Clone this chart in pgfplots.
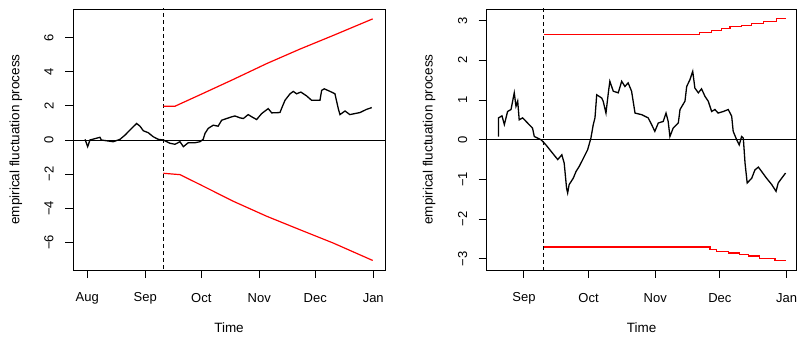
\documentclass[border=0pt]{standalone}
\usepackage{pgfplots}
\pgfplotsset{compat=1.18}
\usepackage{fontspec}
\setmainfont{Liberation Sans}
\begin{document}
\begin{tikzpicture}
\path[use as bounding box] (0,0) rectangle (798pt,338pt);
\pgfplotsset{
  rstyle/.style={
    scale only axis,
    height=261pt,
    axis line style={line width=0.9pt},
    tick align=outside,
    xtick pos=bottom, ytick pos=left,
    major tick length=8pt,
    tick style={line width=0.9pt, black},
    tick label style={font=\fontsize{13}{15}\selectfont},
    label style={font=\fontsize{13.5}{15}\selectfont},
    /pgf/number format/assume math mode=true,
    yticklabel style={rotate=90, anchor=center, yshift=16pt},
    xticklabel style={anchor=center, yshift=-20pt},
    xlabel={Time},
    ylabel={empirical fluctuation process},
    clip=true,
  }
}
% ---------------- left panel ----------------
\begin{axis}[rstyle,
  at={(73pt,68pt)}, anchor=south west, width=312pt,
  xmin=-7.65, xmax=159.3, ymin=-7.62, ymax=7.68,
  xtick={0,31,61,92,122,153},
  xticklabels={Aug,Sep,Oct,Nov,Dec,Jan},
  ytick={-6,-4,-2,0,2,4,6},
  yticklabels={−6,−4,−2,0,2,4,6},
  xlabel style={at={(axis description cs:0.5,-0.222)}, anchor=center},
  ylabel style={at={(axis description cs:-0.183,0.5)}, anchor=center},
]
\addplot[black, line width=0.9pt] coordinates {(-20,0) (200,0)};
\addplot[black, line width=0.9pt, dash pattern=on 4pt off 3pt] coordinates {(40.7,-10) (40.7,10)};
\addplot[red, line width=1.2pt] coordinates {
(40.7,1.98) (46.9,1.98) (60.3,2.65) (78.1,3.55) (96,4.48) (113.8,5.33) (131.6,6.13) (152.7,7.1)};
\addplot[red, line width=1.2pt] coordinates {
(40.7,-1.95) (49.6,-2.03) (60.3,-2.61) (78.1,-3.59) (96,-4.47) (113.8,-5.26) (131.6,-6.04) (152.7,-7.06)};
\addplot[black, line width=1.3pt] coordinates {
(-1.2,0.04) (0.2,-0.39) (1.4,0) (6.8,0.16) (7.5,0) (13.9,-0.1) (17.5,0.04)
(20.2,0.29) (22.8,0.58) (26.4,0.97) (28.2,0.81) (30,0.54) (32.6,0.43)
(35.3,0.19) (38,0.04) (40.7,0) (44.2,-0.19) (46.9,-0.25) (49.6,-0.1)
(51.4,-0.39) (54,-0.16) (57.6,-0.16) (60.3,-0.1) (62,0.04) (63,0.39)
(64.7,0.68) (67.4,0.87) (70,0.81) (71.9,1.16) (74.6,1.26) (77,1.35)
(79,1.41) (81.7,1.3) (83.5,1.26) (86.1,1.49) (88,1.36) (90.6,1.2)
(93.3,1.55) (96.8,1.84) (98.7,1.59) (103.1,1.61) (104.3,1.94) (105.8,2.33)
(108.5,2.71) (110.2,2.85) (112,2.71) (114.3,2.81) (117.4,2.58) (120,2.33)
(124.5,2.33) (125.4,2.91) (126.8,3.0) (129.9,2.85) (132.5,2.71) (134.3,1.84)
(135.2,1.49) (137.9,1.70) (140.5,1.49) (145.9,1.61) (149.5,1.80) (152.2,1.90)};
\end{axis}
% ---------------- right panel ----------------
\begin{axis}[rstyle,
  at={(486.7pt,68pt)}, anchor=south west, width=310pt,
  xmin=13.7, xmax=157.7, ymin=-3.28, ymax=3.29,
  xtick={31,61,92,122,153},
  xticklabels={Sep,Oct,Nov,Dec,Jan},
  ytick={-3,-2,-1,0,1,2,3},
  yticklabels={−3,−2,−1,0,1,2,3},
  xlabel style={at={(axis description cs:0.5,-0.222)}, anchor=center},
  ylabel style={at={(axis description cs:-0.186,0.5)}, anchor=center},
]
\addplot[black, line width=0.9pt] coordinates {(-20,0) (200,0)};
\addplot[black, line width=0.9pt, dash pattern=on 4pt off 3pt] coordinates {(40.2,-10) (40.2,10)};
\addplot[red, line width=1.2pt, const plot] coordinates {
(40.2,2.65) (112.7,2.70) (118.2,2.74) (122.8,2.80) (126.7,2.84) (132.1,2.88)
(136.8,2.92) (142.1,2.98) (148.4,3.05) (152.7,3.05)};
\addplot[red, line width=1.2pt, const plot] coordinates {
(40.2,-2.70) (117.4,-2.76) (120.5,-2.81) (125.9,-2.85) (131.3,-2.89)
(135.2,-2.93) (140.6,-2.99) (147.6,-3.04) (152.7,-3.04)};
\addplot[black, line width=1.3pt] coordinates {
(19.2,0.08) (19.2,0.55) (20.8,0.6) (21.9,0.38) (23.4,0.71) (25,0.76)
(26.5,1.18) (27.3,0.84) (28.1,0.97) (28.8,0.50) (30.4,0.55) (32.7,0.42)
(35,0.29) (35.8,0.08) (38.9,0) (41.2,-0.13) (44.3,-0.34) (46.7,-0.50)
(48.6,-0.38) (49.7,-0.59) (50.8,-1.22) (51.3,-1.34) (52,-1.13) (53.9,-0.97)
(55.2,-0.80) (56.7,-0.67) (58.3,-0.50) (60.6,-0.25) (62.1,0.04) (63.2,0.38)
(64,0.55) (64.8,1.13) (67.1,1.05) (67.8,0.97) (69.1,0.67) (70.2,1.18)
(70.9,1.47) (72.5,1.22) (74.8,1.18) (76.4,1.47) (77.9,1.34) (79.4,1.43)
(81,1.22) (82.6,0.67) (85.7,0.63) (88.7,0.55) (90.3,0.38) (91.8,0.21)
(93.4,0.42) (95.7,0.46) (97,0.67) (98,0.46) (98.8,0.08) (100.3,0.29)
(102.7,0.42) (103.5,0.76) (105.8,0.97) (106.6,1.34) (108.1,1.51) (109.4,1.72)
(110.4,1.30) (112,1.18) (113.5,1.28) (115.1,1.09) (116.6,0.97) (118.2,0.71)
(119.7,0.76) (121.2,0.67) (123.6,0.71) (125.9,0.76) (127.5,0.59) (128.2,0.21)
(129.8,0) (131,-0.13) (132.1,0.08) (132.9,0.04) (133.7,-0.59) (134.7,-1.09)
(136.8,-0.97) (138.3,-0.76) (139.9,-0.69) (141.4,-0.80) (143.7,-0.97)
(146.1,-1.13) (148.1,-1.30) (149.1,-1.09) (150.7,-0.97) (152.5,-0.84)};
\end{axis}
\end{tikzpicture}
\end{document}
